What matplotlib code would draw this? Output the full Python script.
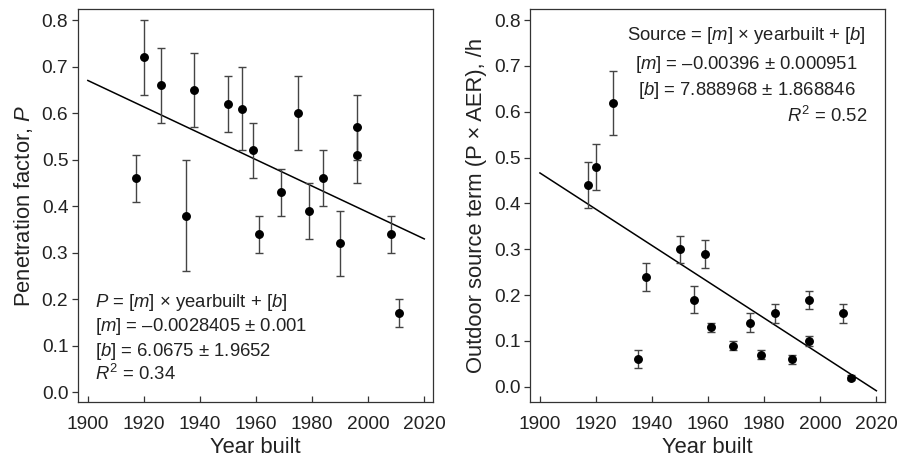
import numpy as np
import matplotlib
matplotlib.use("Agg")
import matplotlib.pyplot as plt

# ============================================================
# DATA
# ============================================================

years = [1917, 1920, 1926, 1935, 1938, 1950, 1955, 1959, 1961, 1969,
         1975, 1979, 1984, 1990, 1996, 1996, 2008, 2011]

# penetration factor P with +/- error
pen = [0.46, 0.72, 0.66, 0.38, 0.65, 0.62, 0.61, 0.52, 0.34, 0.43,
       0.60, 0.39, 0.46, 0.32, 0.57, 0.51, 0.34, 0.17]
pen_err = [0.05, 0.08, 0.08, 0.12, 0.08, 0.06, 0.09, 0.06, 0.04, 0.05,
           0.08, 0.06, 0.06, 0.07, 0.07, 0.06, 0.04, 0.03]

# outdoor source term (P x AER) with +/- error
src = [0.44, 0.48, 0.62, 0.06, 0.24, 0.30, 0.19, 0.29, 0.13, 0.09,
       0.14, 0.07, 0.16, 0.06, 0.19, 0.10, 0.16, 0.02]
src_err = [0.05, 0.05, 0.07, 0.02, 0.03, 0.03, 0.03, 0.03, 0.01, 0.01,
           0.02, 0.01, 0.02, 0.01, 0.02, 0.01, 0.02, 0.005]

# fitted lines (slope, intercept) as drawn
pen_fit = (-0.0028405, 6.0675)
src_fit = (-0.00396, 7.9906)
fit_range = [1900, 2020]

xticks = [1900, 1920, 1940, 1960, 1980, 2000, 2020]
yticks = [0.0, 0.1, 0.2, 0.3, 0.4, 0.5, 0.6, 0.7, 0.8]

pen_text = ["$P$ = [$m$] \u00d7 yearbuilt + [$b$]",
            "[$m$] = \u20130.0028405 \u00b1 0.001",
            "[$b$] = 6.0675 \u00b1 1.9652",
            "$R^2$ = 0.34"]
src_text = ["Source = [$m$] \u00d7 yearbuilt + [$b$]",
            "[$m$] = \u20130.00396 \u00b1 0.000951",
            "[$b$] = 7.888968 \u00b1 1.868846",
            "$R^2$ = 0.52"]

# ============================================================
# STYLE
# ============================================================

plt.rcParams["font.family"] = ["Liberation Sans", "DejaVu Sans"]
plt.rcParams["mathtext.fontset"] = "custom"
plt.rcParams["mathtext.rm"] = "Liberation Sans"
plt.rcParams["mathtext.it"] = "Liberation Sans:italic"
plt.rcParams["text.color"] = "#222222"
plt.rcParams["axes.labelcolor"] = "#222222"
plt.rcParams["xtick.color"] = "#333333"
plt.rcParams["ytick.color"] = "#333333"
plt.rcParams["xtick.labelcolor"] = "#222222"
plt.rcParams["ytick.labelcolor"] = "#222222"

TEXT_SIZE = 13.3
TICK_SIZE = 13.8
LABEL_SIZE = 15.8


def draw_panel(ax, y, yerr, fit, ylabel, ylim):
    ax.errorbar(years, y, yerr=yerr, fmt="o", color="black", ms=5.4,
                ecolor="#444444", elinewidth=1.0, capsize=2.8, capthick=1.0,
                zorder=3)
    fx = np.array(fit_range, dtype=float)
    ax.plot(fx, fit[0] * fx + fit[1], color="black", lw=1.1, zorder=2)

    ax.set_xlim(1896.5, 2023.2)
    ax.set_ylim(*ylim)
    ax.set_xticks(xticks)
    ax.set_yticks(yticks)
    ax.set_yticklabels([f"{t:.1f}" for t in yticks])
    ax.tick_params(axis="x", direction="in", length=4, width=0.9,
                   labelsize=TICK_SIZE, pad=10)
    ax.tick_params(axis="y", direction="out", length=4, width=0.9,
                   labelsize=TICK_SIZE, pad=3)
    for s in ax.spines.values():
        s.set_color("#333333")
        s.set_linewidth(0.9)
    ax.set_xlabel("Year built", fontsize=LABEL_SIZE, labelpad=3)
    ax.set_ylabel(ylabel, fontsize=LABEL_SIZE, labelpad=5)


fig = plt.figure(figsize=(8.97, 4.58), dpi=100)
ax1 = fig.add_axes([0.087, 0.122, 0.396, 0.858])
ax2 = fig.add_axes([0.591, 0.122, 0.396, 0.858])

draw_panel(ax1, pen, pen_err, pen_fit, "Penetration factor, $P$",
           (-0.0215, 0.824))
draw_panel(ax2, src, src_err, src_fit,
           "Outdoor source term (P \u00d7 AER), /h", (-0.0334, 0.824))

for line, yy in zip(pen_text, [0.254, 0.192, 0.130, 0.071]):
    ax1.text(0.048, yy, line, transform=ax1.transAxes, ha="left",
             va="center", fontsize=TEXT_SIZE)

for line, yy in zip(src_text[:3], [0.932, 0.859, 0.793]):
    ax2.text(0.610, yy, line, transform=ax2.transAxes, ha="center",
             va="center", fontsize=TEXT_SIZE)
ax2.text(0.948, 0.728, src_text[3], transform=ax2.transAxes, ha="right",
         va="center", fontsize=TEXT_SIZE)

fig.savefig("out.png", dpi=100)
